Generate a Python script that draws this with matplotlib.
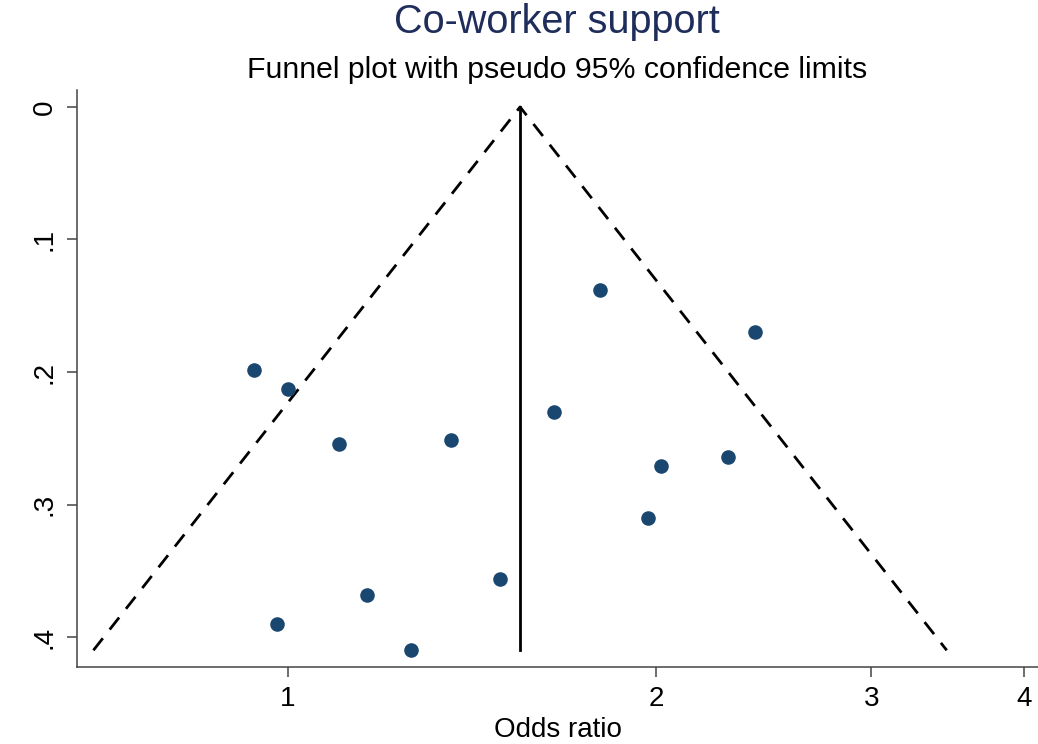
import numpy as np
import matplotlib
matplotlib.use("Agg")
import matplotlib.pyplot as plt

plt.rcParams['font.family'] = ['Liberation Sans', 'DejaVu Sans']

# Study-level odds ratios and standard errors of log(OR)
odds_ratio = [1.80, 2.41, 0.938, 1.00, 1.65, 1.10, 1.36, 2.29, 2.02, 1.97, 1.49, 1.16, 0.98, 1.26]
se_log_or = [0.138, 0.170, 0.1985, 0.213, 0.230, 0.254, 0.251, 0.264, 0.271, 0.310, 0.356, 0.368, 0.390, 0.410]
pooled_or = 1.548

x_ticks = [1, 2, 3, 4]
y_ticks = [0, 0.1, 0.2, 0.3, 0.4]
y_tick_labels = ["0", ".1", ".2", ".3", ".4"]

title = "Co-worker support"
subtitle = "Funnel plot with pseudo 95% confidence limits"
xlabel = "Odds ratio"

fig = plt.figure(figsize=(10.38, 7.44), dpi=100)
ax = fig.add_axes([77 / 1038, (744 - 667) / 744, (1038 - 77) / 1038, (667 - 90) / 744])

ax.set_xscale("log")
ax.set_xlim(0.672, 4.106)
ax.set_ylim(0.4226, -0.0128)

# Pseudo 95% confidence limits
se_max = max(se_log_or)
lp = np.log(pooled_or)
lo = np.exp(lp - 1.96 * se_max)
hi = np.exp(lp + 1.96 * se_max)
ax.plot([lo, pooled_or, hi], [se_max, 0, se_max], color="black", lw=2.0,
        linestyle=(0, (5.5, 4)), zorder=2)
ax.plot([pooled_or, pooled_or], [0, se_max], color="black", lw=2.0, zorder=2)

ax.scatter(odds_ratio, se_log_or, s=110, color="#1a476f", zorder=3, linewidths=0)

for side in ("top", "right"):
    ax.spines[side].set_visible(False)
for side in ("left", "bottom"):
    ax.spines[side].set_color("#444444")
    ax.spines[side].set_linewidth(1.1)

ax.xaxis.set_minor_locator(matplotlib.ticker.NullLocator())
ax.set_xticks(x_ticks)
ax.set_xticklabels([str(t) for t in x_ticks])
ax.set_yticks(y_ticks)
ax.set_yticklabels(y_tick_labels, rotation=90, va="center")
ax.tick_params(axis="both", length=7, width=1.1, color="#444444", labelsize=20, pad=7)

ax.set_xlabel(xlabel, fontsize=20, labelpad=3)

# Titles are centred over the plot region
cx = 557 / 1038
fig.text(cx, 1 - 22 / 744, title, ha="center", va="center", fontsize=28.5, color="#1e2d5a")
fig.text(cx, 1 - 70 / 744, subtitle, ha="center", va="center", fontsize=21.8, color="black")

fig.savefig("out.png", dpi=100)
